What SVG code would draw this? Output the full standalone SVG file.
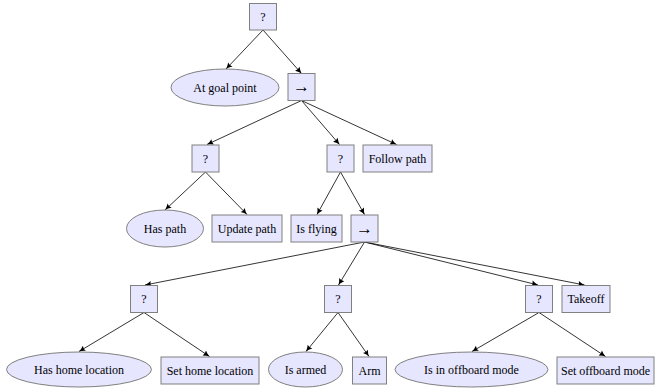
<svg xmlns="http://www.w3.org/2000/svg" width="655" height="388" viewBox="0 0 655 388">
<style>
.n{fill:#E6E6FF;stroke:#808080;stroke-width:1}
.t{font-family:'Liberation Serif','Times New Roman','DejaVu Serif',serif;font-size:12px;fill:#000;text-anchor:middle}
.a{font-family:'Liberation Serif','DejaVu Serif',serif;font-size:17px;fill:#000;text-anchor:middle}
.e{stroke:#000;stroke-width:0.8;fill:none;marker-end:url(#ah)}
</style>
<defs>
<marker id="ah" markerUnits="userSpaceOnUse" markerWidth="8" markerHeight="8" viewBox="-6 -3 7 6" refX="0" refY="0" orient="auto">
<path d="M-5.5,-2.6 Q-2.5,-0.6 0,0 Q-2.5,0.6 -5.5,2.6 Q-4.2,0 -5.5,-2.6 Z" fill="#000"/>
</marker>
</defs>
<rect width="655" height="388" fill="#fff"/>
<g id="edges">
<line class="e" x1="263" y1="30" x2="226" y2="69"/>
<line class="e" x1="263" y1="30" x2="301.5" y2="73.5"/>
<line class="e" x1="301.5" y1="100.5" x2="207" y2="144.5"/>
<line class="e" x1="301.5" y1="100.5" x2="339.5" y2="144.5"/>
<line class="e" x1="301.5" y1="100.5" x2="396.5" y2="144.5"/>
<line class="e" x1="205.5" y1="172" x2="165" y2="210"/>
<line class="e" x1="205.5" y1="172" x2="247" y2="214.5"/>
<line class="e" x1="340.5" y1="172" x2="317" y2="214.5"/>
<line class="e" x1="340.5" y1="172" x2="364.5" y2="214.5"/>
<line class="e" x1="364.5" y1="242" x2="145" y2="285"/>
<line class="e" x1="364.5" y1="242" x2="338.5" y2="285"/>
<line class="e" x1="364.5" y1="242" x2="538" y2="285"/>
<line class="e" x1="364.5" y1="242" x2="584.5" y2="285"/>
<line class="e" x1="144" y1="312.5" x2="79" y2="351.5"/>
<line class="e" x1="144" y1="312.5" x2="209.5" y2="356.5"/>
<line class="e" x1="338" y1="312.5" x2="306" y2="351.5"/>
<line class="e" x1="338" y1="312.5" x2="369" y2="356.5"/>
<line class="e" x1="539" y1="312.5" x2="472" y2="351.5"/>
<line class="e" x1="539" y1="312.5" x2="605.5" y2="356.5"/>
</g>
<g id="root"><rect class="n" x="249.5" y="3.5" width="27" height="26.5"/><text class="t" x="263" y="21">?</text></g>
<g id="at-goal-point"><ellipse class="n" cx="225" cy="87.5" rx="54" ry="18.5"/><text class="t" x="225" y="91.5">At goal point</text></g>
<g id="seq1"><rect class="n" x="288" y="73.5" width="27" height="27"/><text class="a" x="301.5" y="92">→</text></g>
<g id="fb-path"><rect class="n" x="192" y="145" width="27" height="27"/><text class="t" x="205.5" y="162.5">?</text></g>
<g id="fb-flying"><rect class="n" x="327" y="145" width="27" height="27"/><text class="t" x="340.5" y="162.5">?</text></g>
<g id="follow-path"><rect class="n" x="363" y="145" width="69" height="27"/><text class="t" x="397.5" y="162.5">Follow path</text></g>
<g id="has-path"><ellipse class="n" cx="165" cy="228.5" rx="38.5" ry="18.5"/><text class="t" x="165" y="232.5">Has path</text></g>
<g id="update-path"><rect class="n" x="212" y="215" width="70" height="27"/><text class="t" x="247" y="232.5">Update path</text></g>
<g id="is-flying"><rect class="n" x="291" y="215" width="51" height="27"/><text class="t" x="316.5" y="232.5">Is flying</text></g>
<g id="seq2"><rect class="n" x="351" y="215" width="27" height="27"/><text class="a" x="364.5" y="233.5">→</text></g>
<g id="fb-home"><rect class="n" x="130.5" y="285.5" width="27" height="27"/><text class="t" x="144" y="303">?</text></g>
<g id="fb-armed"><rect class="n" x="324.5" y="285.5" width="27" height="27"/><text class="t" x="338" y="303">?</text></g>
<g id="fb-offboard"><rect class="n" x="525.5" y="285.5" width="27" height="27"/><text class="t" x="539" y="303">?</text></g>
<g id="takeoff"><rect class="n" x="562" y="285.5" width="48" height="27"/><text class="t" x="586" y="303">Takeoff</text></g>
<g id="has-home-location"><ellipse class="n" cx="79" cy="369.5" rx="72.5" ry="17.5"/><text class="t" x="79" y="373.5">Has home location</text></g>
<g id="set-home-location"><rect class="n" x="161" y="357" width="98" height="27"/><text class="t" x="210" y="374.5">Set home location</text></g>
<g id="is-armed"><ellipse class="n" cx="305.5" cy="369.5" rx="37" ry="17.5"/><text class="t" x="305.5" y="373.5">Is armed</text></g>
<g id="arm"><rect class="n" x="352.5" y="357" width="34" height="27"/><text class="t" x="369.5" y="374.5">Arm</text></g>
<g id="is-in-offboard-mode"><ellipse class="n" cx="471.5" cy="369.5" rx="76.5" ry="17.5"/><text class="t" x="471.5" y="373.5">Is in offboard mode</text></g>
<g id="set-offboard-mode"><rect class="n" x="557" y="357" width="97" height="27"/><text class="t" x="605.5" y="374.5">Set offboard mode</text></g>
</svg>
